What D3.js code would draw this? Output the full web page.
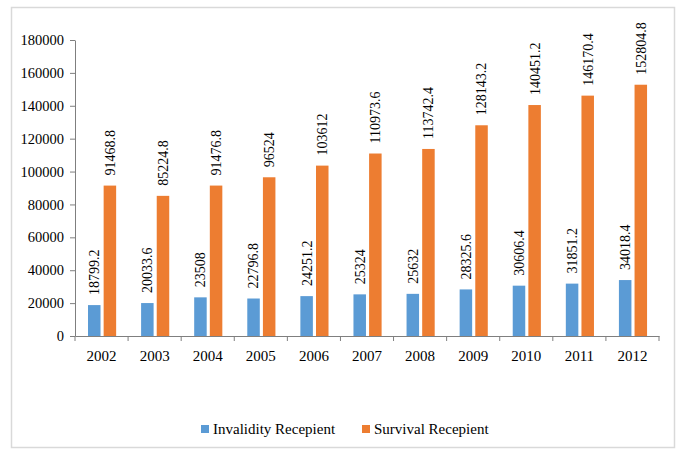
<!DOCTYPE html>
<html>
<head>
<meta charset="utf-8">
<script src="https://cdn.jsdelivr.net/npm/d3@7"></script>
<style>
  html, body { margin: 0; padding: 0; background: #fff; }
  svg { display: block; }
  text { font-family: "Liberation Serif", "Times New Roman", serif; fill: #000; }
</style>
</head>
<body>
<svg id="chart" width="681" height="449"></svg>
<script>
const years = ["2002","2003","2004","2005","2006","2007","2008","2009","2010","2011","2012"];
const seriesNames = ["Invalidity Recepient", "Survival Recepient"];
const invalidity = [18799.2, 20033.6, 23508, 22796.8, 24251.2, 25324, 25632, 28325.6, 30606.4, 31851.2, 34018.4];
const survival = [91468.8, 85224.8, 91476.8, 96524, 103612, 110973.6, 113742.4, 128143.2, 140451.2, 146170.4, 152804.8];
const invalidityLabels = ["18799.2","20033.6","23508","22796.8","24251.2","25324","25632","28325.6","30606.4","31851.2","34018.4"];
const survivalLabels = ["91468.8","85224.8","91476.8","96524","103612","110973.6","113742.4","128143.2","140451.2","146170.4","152804.8"];
const yTicks = [0, 20000, 40000, 60000, 80000, 100000, 120000, 140000, 160000, 180000];
const colors = ["#5B9BD5", "#ED7D31"];

const svg = d3.select("#chart");

// outer frame
svg.append("rect")
  .attr("x", 11.5).attr("y", 7.5).attr("width", 663).attr("height", 440)
  .attr("fill", "#fff").attr("stroke", "#d9d9d9").attr("stroke-width", 1.5);

const plotL = 75, plotR = 659, plotT = 40, plotB = 336;

const x = d3.scaleBand().domain(years).range([plotL, plotR]).paddingInner(0).paddingOuter(0);
const bw = x.bandwidth();
const x1 = d3.scaleBand().domain(seriesNames).range([bw * 0.245, bw * 0.775]).paddingInner(0.2);
const y = d3.scaleLinear().domain([0, 180000]).range([plotB, plotT]);

const rows = years.map((yr, i) => ({
  year: yr,
  vals: [
    { s: seriesNames[0], v: invalidity[i], lab: invalidityLabels[i], c: colors[0] },
    { s: seriesNames[1], v: survival[i], lab: survivalLabels[i], c: colors[1] }
  ]
}));

// bars
const g = svg.append("g");
const grp = g.selectAll("g.grp").data(rows).join("g")
  .attr("class", "grp")
  .attr("transform", d => `translate(${x(d.year)},0)`);

grp.selectAll("rect").data(d => d.vals).join("rect")
  .attr("x", d => x1(d.s))
  .attr("y", d => y(d.v))
  .attr("width", x1.bandwidth())
  .attr("height", d => plotB - y(d.v))
  .attr("fill", d => d.c);

grp.selectAll("text.lab").data(d => d.vals).join("text")
  .attr("class", "lab")
  .attr("transform", d => `translate(${x1(d.s) + x1.bandwidth() / 2},${y(d.v) - 10}) rotate(-90)`)
  .attr("dy", "0.35em")
  .attr("text-anchor", "start")
  .style("font-size", "14px")
  .text(d => d.lab);

// y axis
const yAxis = svg.append("g")
  .attr("transform", `translate(${plotL},0)`)
  .call(d3.axisLeft(y).tickValues(yTicks).tickFormat(d3.format("d")).tickSize(5).tickSizeOuter(0).tickPadding(6));
yAxis.selectAll("text").style("font-size", "14.5px").style("font-family", "Liberation Serif, serif").attr("fill", "#000");
yAxis.selectAll("line, path").attr("stroke", "#7f7f7f");

// x axis
const xAxis = svg.append("g")
  .attr("transform", `translate(0,${plotB})`)
  .call(d3.axisBottom(x).tickSize(0).tickSizeOuter(0).tickPadding(14));
xAxis.selectAll("text").style("font-size", "15px").style("font-family", "Liberation Serif, serif").attr("fill", "#000");
xAxis.select("path.domain").attr("stroke", "#7f7f7f");
const bounds = years.map(yr => x(yr)).concat([x(years[years.length - 1]) + bw]);
xAxis.selectAll("line.bound").data(bounds).join("line")
  .attr("class", "bound")
  .attr("x1", d => d).attr("x2", d => d)
  .attr("y1", 0).attr("y2", 5)
  .attr("stroke", "#7f7f7f");

// legend
const legendPos = [{ sx: 201, tx: 213 }, { sx: 362, tx: 374 }];
const lg = svg.append("g");
seriesNames.forEach((name, i) => {
  lg.append("rect").attr("x", legendPos[i].sx).attr("y", 425).attr("width", 8).attr("height", 8).attr("fill", colors[i]);
  lg.append("text").attr("x", legendPos[i].tx).attr("y", 434).style("font-size", "15px").text(name);
});
</script>
</body>
</html>
